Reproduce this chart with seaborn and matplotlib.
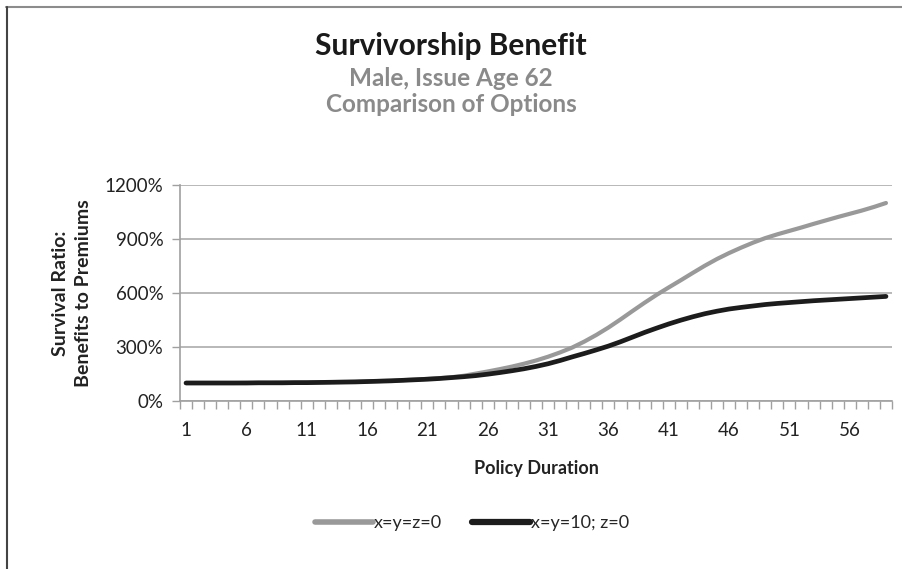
import matplotlib
matplotlib.use("Agg")
import matplotlib.pyplot as plt
from matplotlib.lines import Line2D
from matplotlib.ticker import FixedLocator, FuncFormatter
import numpy as np
import pandas as pd
import seaborn as sns

# Policy duration (years) and survival ratio (%) for the two options
durations = list(range(1, 60))
option_a_label = "x=y=z=0"
option_b_label = "x=y=10; z=0"
option_a = [100, 100, 100, 100, 100, 101, 101, 101, 102, 102,
            103, 104, 105, 106, 107, 109, 111, 113, 116, 119,
            123, 127, 132, 140, 152, 164, 177, 191, 207, 225,
            246, 270, 297, 330, 367, 408, 453, 500, 546, 590,
            631, 671, 712, 752, 789, 822, 852, 880, 905, 926,
            945, 964, 984, 1003, 1022, 1040, 1058, 1078, 1100]
option_b = [100, 100, 100, 100, 100, 100, 101, 101, 101, 102,
            102, 103, 104, 105, 106, 108, 110, 112, 115, 118,
            121, 125, 130, 135, 141, 149, 158, 168, 179, 192,
            207, 225, 245, 264, 284, 305, 329, 355, 381, 405,
            428, 449, 468, 485, 499, 511, 520, 528, 536, 542,
            547, 552, 557, 561, 565, 569, 573, 577, 581]
y_ticks = [0, 300, 600, 900, 1200]

title = "Survivorship Benefit"
subtitle_1 = "Male, Issue Age 62"
subtitle_2 = "Comparison of Options"
x_title = "Policy Duration"
y_title = "Survival Ratio:\nBenefits to Premiums"

df = pd.DataFrame({
    "pos": list(range(len(durations))) * 2,
    "ratio": option_a + option_b,
    "series": [option_a_label] * len(durations) + [option_b_label] * len(durations),
})

sns.set_theme(style="white")
plt.rcParams["font.family"] = ["Lato", "DejaVu Sans"]

W, H = 902, 569
fig = plt.figure(figsize=(W / 100, H / 100), dpi=100)
ax = fig.add_axes([180 / W, 1 - 401 / H, 712 / W, 216 / H])

grey = "#999999"
black = "#1c1c1c"
sns.lineplot(data=df, x="pos", y="ratio", hue="series",
             palette={option_a_label: grey, option_b_label: black},
             ax=ax, legend=False, sort=True)
for line, lw in zip(ax.lines, [3.0, 3.4]):
    line.set_linewidth(lw)
    line.set_solid_capstyle("round")

n = len(durations)
ax.set_xlim(-0.5, n - 0.5)
ax.set_ylim(0, 1200)

# y axis: percent labels with gridlines
ax.yaxis.set_major_locator(FixedLocator(y_ticks))
ax.yaxis.set_major_formatter(FuncFormatter(lambda v, p: f"{int(v)}%"))
ax.grid(axis="y", color="#ababab", linewidth=1.2)
ax.grid(axis="x", visible=False)
ax.set_axisbelow(True)

# x axis: labels every fifth duration, tick marks at category boundaries
label_pos = [i for i, d in enumerate(durations) if (d - 1) % 5 == 0]
ax.set_xticks(label_pos)
ax.set_xticklabels([str(durations[i]) for i in label_pos])
ax.set_xticks(np.arange(-0.5, n, 1.0), minor=True)
ax.tick_params(axis="x", which="major", length=0, pad=15, labelsize=13.5, labelcolor="#222222")
ax.tick_params(axis="x", which="minor", length=6, width=1.0, color="#a0a0a0", direction="out", bottom=True)
ax.tick_params(axis="y", which="major", length=6, width=1.0, color="#a0a0a0", direction="out",
               left=True, pad=6, labelsize=13.5, labelcolor="#222222")

for side in ["top", "right"]:
    ax.spines[side].set_visible(False)
for side in ["left", "bottom"]:
    ax.spines[side].set_color("#a0a0a0")
    ax.spines[side].set_linewidth(1.2)

ax.set_xlabel(x_title, fontsize=13, fontweight="bold", color="#222222", labelpad=15)
ax.set_ylabel(y_title, fontsize=14, fontweight="bold", color="#222222", labelpad=9,
              linespacing=1.45)

fig.text(451 / W, 1 - 46 / H, title, ha="center", va="center",
         fontsize=21.5, fontweight="bold", color="#1a1a1a")
fig.text(451 / W, 1 - 78 / H, subtitle_1, ha="center", va="center",
         fontsize=17.5, fontweight="bold", color="#8a8a8a")
fig.text(451 / W, 1 - 104 / H, subtitle_2, ha="center", va="center",
         fontsize=17.5, fontweight="bold", color="#8a8a8a")

handles = [Line2D([], [], color=grey, lw=4.0),
           Line2D([], [], color=black, lw=4.5)]
fig.legend(handles, [option_a_label, option_b_label], loc="center",
           bbox_to_anchor=(472 / W, 1 - 523 / H), ncol=2, frameon=False,
           fontsize=13, handlelength=3.2, handletextpad=0.05, columnspacing=1.7)

# outer frame edges
fig.add_artist(Line2D([6 / W, 1], [1 - 7 / H, 1 - 7 / H], transform=fig.transFigure,
                      color="#8c8c8c", lw=1.5))
fig.add_artist(Line2D([7 / W, 7 / W], [0, 1 - 7 / H], transform=fig.transFigure,
                      color="#444444", lw=1.5))

fig.savefig("out.png", dpi=100)
